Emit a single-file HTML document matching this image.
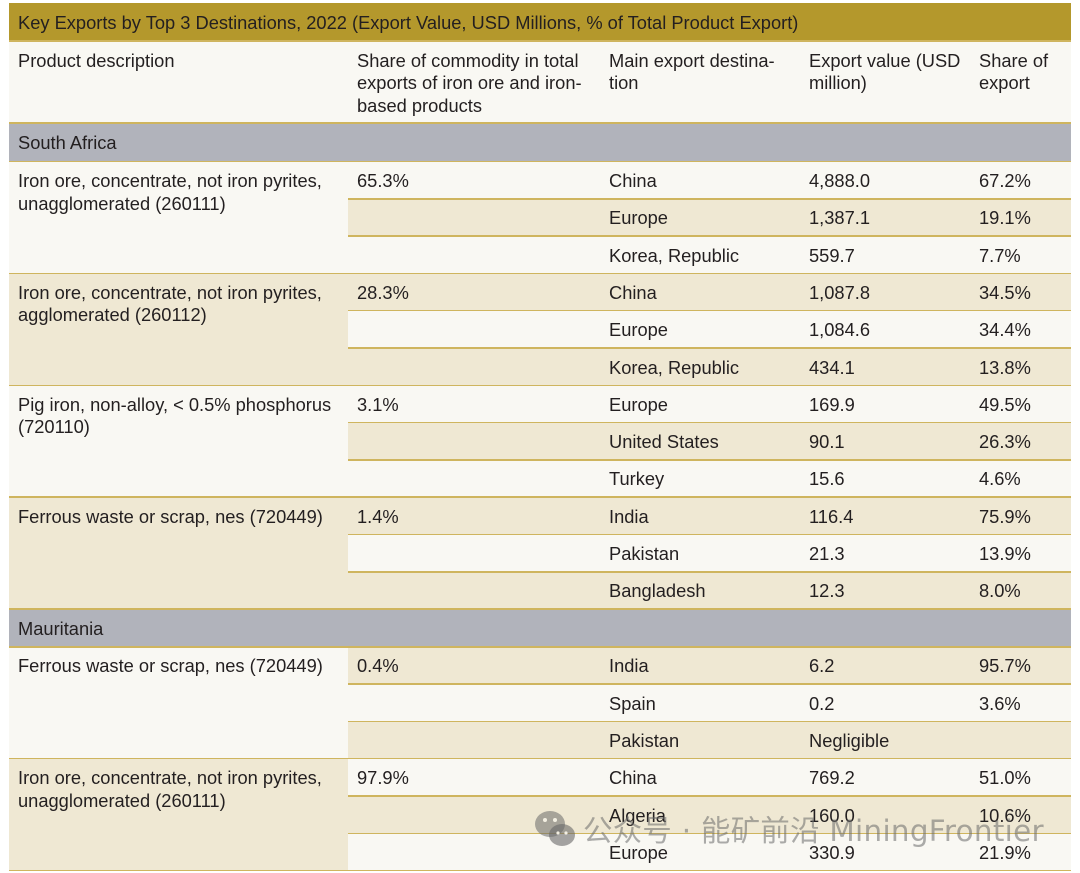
<!DOCTYPE html>
<html><head><meta charset="utf-8">
<style>
html,body{margin:0;padding:0;background:#fff;}
body{width:1080px;height:873px;position:relative;overflow:hidden;font-family:"Liberation Sans",Arial,sans-serif;color:#231f20;font-size:18.3px;}
.a{position:absolute;}
.L{background:#f9f8f3;}
.B{background:#efe8d3;}
.G{background:#b1b3bb;}
.ln{position:absolute;height:1.6px;background:#cfb55e;}
.t{position:absolute;line-height:22.5px;white-space:nowrap;}
.wm{position:absolute;left:583px;top:808px;font-family:"DejaVu Sans","Noto Sans CJK SC",sans-serif;font-size:29.4px;color:rgba(105,105,105,0.55);white-space:nowrap;letter-spacing:0.3px;}
</style></head><body>
<!-- title bar -->
<div class="a" style="left:9px;top:3px;width:1062px;height:38px;background:#b4982c;"></div>
<div class="t" style="left:18px;top:11.5px;">Key Exports by Top 3 Destinations, 2022 (Export Value, USD Millions, % of Total Product Export)</div>
<!-- header -->
<div class="a L" style="left:9px;top:41px;width:1062px;height:82px;"></div>
<div class="t" style="left:18px;top:49.5px;">Product description</div>
<div class="t" style="left:357px;top:49.5px;">Share of commodity in total<br>exports of iron ore and iron-<br>based products</div>
<div class="t" style="left:609px;top:49.5px;">Main export destina-<br>tion</div>
<div class="t" style="left:809px;top:49.5px;">Export value (USD<br>million)</div>
<div class="t" style="left:979px;top:49.5px;">Share of<br>export</div>
<!-- South Africa band -->
<div class="a G" style="left:9px;top:123px;width:1062px;height:38.5px;"></div>
<div class="t" style="left:18px;top:131.5px;">South Africa</div>

<!-- SA product cells -->
<div class="a L" style="left:9px;top:161.5px;width:339px;height:111.9px;"></div>
<div class="a B" style="left:9px;top:273.4px;width:339px;height:111.9px;"></div>
<div class="a L" style="left:9px;top:385.3px;width:339px;height:111.9px;"></div>
<div class="a B" style="left:9px;top:497.2px;width:339px;height:111.9px;"></div>
<!-- SA rows -->
<div class="a L" style="left:348px;top:161.5px;width:723px;height:37.3px;"></div>
<div class="a B" style="left:348px;top:198.8px;width:723px;height:37.3px;"></div>
<div class="a L" style="left:348px;top:236.1px;width:723px;height:37.3px;"></div>
<div class="a B" style="left:348px;top:273.4px;width:723px;height:37.3px;"></div>
<div class="a L" style="left:348px;top:310.7px;width:723px;height:37.3px;"></div>
<div class="a B" style="left:348px;top:348.0px;width:723px;height:37.3px;"></div>
<div class="a L" style="left:348px;top:385.3px;width:723px;height:37.3px;"></div>
<div class="a B" style="left:348px;top:422.6px;width:723px;height:37.3px;"></div>
<div class="a L" style="left:348px;top:459.9px;width:723px;height:37.3px;"></div>
<div class="a B" style="left:348px;top:497.2px;width:723px;height:37.3px;"></div>
<div class="a L" style="left:348px;top:534.5px;width:723px;height:37.3px;"></div>
<div class="a B" style="left:348px;top:571.8px;width:723px;height:37.3px;"></div>

<!-- Mauritania band -->
<div class="a G" style="left:9px;top:609.1px;width:1062px;height:37.7px;"></div>
<div class="t" style="left:18px;top:617.5px;">Mauritania</div>
<!-- M product cells -->
<div class="a L" style="left:9px;top:646.8px;width:339px;height:111.9px;"></div>
<div class="a B" style="left:9px;top:758.7px;width:339px;height:111.9px;"></div>
<!-- M rows -->
<div class="a B" style="left:348px;top:646.8px;width:723px;height:37.3px;"></div>
<div class="a L" style="left:348px;top:684.1px;width:723px;height:37.3px;"></div>
<div class="a B" style="left:348px;top:721.4px;width:723px;height:37.3px;"></div>
<div class="a L" style="left:348px;top:758.7px;width:723px;height:37.3px;"></div>
<div class="a B" style="left:348px;top:796.0px;width:723px;height:37.3px;"></div>
<div class="a L" style="left:348px;top:833.3px;width:723px;height:37.3px;"></div>

<!-- lines -->
<div class="ln" style="left:9px;top:40.2px;width:1062px;"></div>
<div class="ln" style="left:9px;top:122.4px;width:1062px;"></div>
<div class="ln" style="left:9px;top:160.7px;width:1062px;"></div>
<div class="ln" style="left:348px;top:198px;width:723px;"></div>
<div class="ln" style="left:348px;top:235.3px;width:723px;"></div>
<div class="ln" style="left:9px;top:272.6px;width:1062px;"></div>
<div class="ln" style="left:348px;top:309.9px;width:723px;"></div>
<div class="ln" style="left:348px;top:347.2px;width:723px;"></div>
<div class="ln" style="left:9px;top:384.5px;width:1062px;"></div>
<div class="ln" style="left:348px;top:421.8px;width:723px;"></div>
<div class="ln" style="left:348px;top:459.1px;width:723px;"></div>
<div class="ln" style="left:9px;top:496.4px;width:1062px;"></div>
<div class="ln" style="left:348px;top:533.7px;width:723px;"></div>
<div class="ln" style="left:348px;top:571px;width:723px;"></div>
<div class="ln" style="left:9px;top:608.3px;width:1062px;"></div>
<div class="ln" style="left:9px;top:646px;width:1062px;"></div>
<div class="ln" style="left:348px;top:683.3px;width:723px;"></div>
<div class="ln" style="left:348px;top:720.6px;width:723px;"></div>
<div class="ln" style="left:9px;top:757.9px;width:1062px;"></div>
<div class="ln" style="left:348px;top:795.2px;width:723px;"></div>
<div class="ln" style="left:348px;top:832.5px;width:723px;"></div>
<div class="ln" style="left:9px;top:869.8px;width:1062px;"></div>

<!-- SA text -->
<div class="t" style="left:18px;top:170px;">Iron ore, concentrate, not iron pyrites,<br>unagglomerated (260111)</div>
<div class="t" style="left:357px;top:170px;">65.3%</div>
<div class="t" style="left:609px;top:170px;">China</div>
<div class="t" style="left:809px;top:170px;">4,888.0</div>
<div class="t" style="left:979px;top:170px;">67.2%</div>
<div class="t" style="left:609px;top:207.3px;">Europe</div>
<div class="t" style="left:809px;top:207.3px;">1,387.1</div>
<div class="t" style="left:979px;top:207.3px;">19.1%</div>
<div class="t" style="left:609px;top:244.6px;">Korea, Republic</div>
<div class="t" style="left:809px;top:244.6px;">559.7</div>
<div class="t" style="left:979px;top:244.6px;">7.7%</div>

<div class="t" style="left:18px;top:281.9px;">Iron ore, concentrate, not iron pyrites,<br>agglomerated (260112)</div>
<div class="t" style="left:357px;top:281.9px;">28.3%</div>
<div class="t" style="left:609px;top:281.9px;">China</div>
<div class="t" style="left:809px;top:281.9px;">1,087.8</div>
<div class="t" style="left:979px;top:281.9px;">34.5%</div>
<div class="t" style="left:609px;top:319.2px;">Europe</div>
<div class="t" style="left:809px;top:319.2px;">1,084.6</div>
<div class="t" style="left:979px;top:319.2px;">34.4%</div>
<div class="t" style="left:609px;top:356.5px;">Korea, Republic</div>
<div class="t" style="left:809px;top:356.5px;">434.1</div>
<div class="t" style="left:979px;top:356.5px;">13.8%</div>

<div class="t" style="left:18px;top:393.8px;">Pig iron, non-alloy, &lt; 0.5% phosphorus<br>(720110)</div>
<div class="t" style="left:357px;top:393.8px;">3.1%</div>
<div class="t" style="left:609px;top:393.8px;">Europe</div>
<div class="t" style="left:809px;top:393.8px;">169.9</div>
<div class="t" style="left:979px;top:393.8px;">49.5%</div>
<div class="t" style="left:609px;top:431.1px;">United States</div>
<div class="t" style="left:809px;top:431.1px;">90.1</div>
<div class="t" style="left:979px;top:431.1px;">26.3%</div>
<div class="t" style="left:609px;top:468.4px;">Turkey</div>
<div class="t" style="left:809px;top:468.4px;">15.6</div>
<div class="t" style="left:979px;top:468.4px;">4.6%</div>

<div class="t" style="left:18px;top:505.7px;">Ferrous waste or scrap, nes (720449)</div>
<div class="t" style="left:357px;top:505.7px;">1.4%</div>
<div class="t" style="left:609px;top:505.7px;">India</div>
<div class="t" style="left:809px;top:505.7px;">116.4</div>
<div class="t" style="left:979px;top:505.7px;">75.9%</div>
<div class="t" style="left:609px;top:543px;">Pakistan</div>
<div class="t" style="left:809px;top:543px;">21.3</div>
<div class="t" style="left:979px;top:543px;">13.9%</div>
<div class="t" style="left:609px;top:580.3px;">Bangladesh</div>
<div class="t" style="left:809px;top:580.3px;">12.3</div>
<div class="t" style="left:979px;top:580.3px;">8.0%</div>

<!-- Mauritania text -->
<div class="t" style="left:18px;top:655.3px;">Ferrous waste or scrap, nes (720449)</div>
<div class="t" style="left:357px;top:655.3px;">0.4%</div>
<div class="t" style="left:609px;top:655.3px;">India</div>
<div class="t" style="left:809px;top:655.3px;">6.2</div>
<div class="t" style="left:979px;top:655.3px;">95.7%</div>
<div class="t" style="left:609px;top:692.6px;">Spain</div>
<div class="t" style="left:809px;top:692.6px;">0.2</div>
<div class="t" style="left:979px;top:692.6px;">3.6%</div>
<div class="t" style="left:609px;top:729.9px;">Pakistan</div>
<div class="t" style="left:809px;top:729.9px;">Negligible</div>

<div class="t" style="left:18px;top:767.2px;">Iron ore, concentrate, not iron pyrites,<br>unagglomerated (260111)</div>
<div class="t" style="left:357px;top:767.2px;">97.9%</div>
<div class="t" style="left:609px;top:767.2px;">China</div>
<div class="t" style="left:809px;top:767.2px;">769.2</div>
<div class="t" style="left:979px;top:767.2px;">51.0%</div>
<div class="t" style="left:609px;top:804.5px;">Algeria</div>
<div class="t" style="left:809px;top:804.5px;">160.0</div>
<div class="t" style="left:979px;top:804.5px;">10.6%</div>
<div class="t" style="left:609px;top:841.8px;">Europe</div>
<div class="t" style="left:809px;top:841.8px;">330.9</div>
<div class="t" style="left:979px;top:841.8px;">21.9%</div>

<!-- watermark -->
<svg class="a" style="left:533px;top:808px;" width="46" height="44" viewBox="0 0 46 44">
<ellipse cx="17" cy="16" rx="15" ry="13" fill="rgba(105,105,105,0.55)"/>
<ellipse cx="29" cy="27" rx="13" ry="11" fill="rgba(105,105,105,0.6)"/>
<circle cx="12" cy="12" r="2" fill="#f3efe2"/><circle cx="22" cy="12" r="2" fill="#f3efe2"/>
<circle cx="25" cy="25" r="1.6" fill="#f3efe2"/><circle cx="33" cy="25" r="1.6" fill="#f3efe2"/>
</svg>
<div class="wm">公众号 · 能矿前沿 MiningFrontier</div>
</body></html>
